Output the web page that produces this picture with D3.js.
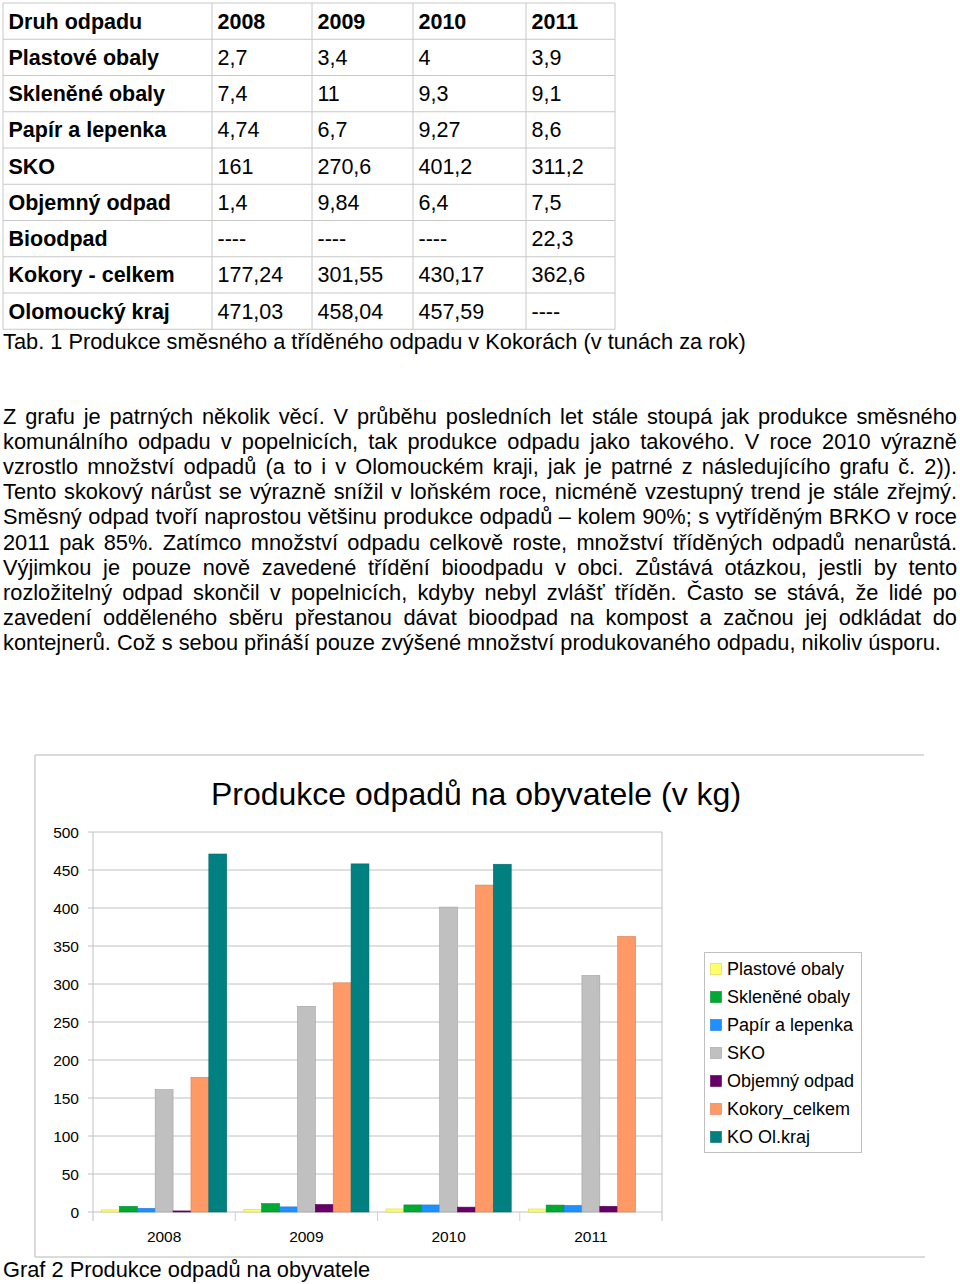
<!DOCTYPE html>
<html><head><meta charset="utf-8">
<script src="https://cdn.jsdelivr.net/npm/d3@7"></script>
<style>
html,body{margin:0;padding:0;background:#fff;}
svg text{font-family:"Liberation Sans",Arial,sans-serif;fill:#000;}
</style></head>
<body>
<svg id="page" width="960" height="1284"></svg>
<script>
// ---------- DATA ----------
const years = ["2008", "2009", "2010", "2011"];
const plastoveObaly = [2.7, 3.4, 4, 3.9];
const skleneneObaly = [7.4, 11, 9.3, 9.1];
const papirLepenka = [4.74, 6.7, 9.27, 8.6];
const sko = [161, 270.6, 401.2, 311.2];
const objemnyOdpad = [1.4, 9.84, 6.4, 7.5];
const bioodpad = [null, null, null, 22.3];
const kokoryCelkem = [177.24, 301.55, 430.17, 362.6];
const olomouckyKraj = [471.03, 458.04, 457.59, null];

const tableHeader = ["Druh odpadu", "2008", "2009", "2010", "2011"];
const tableRowNames = ["Plastové obaly", "Skleněné obaly", "Papír a lepenka", "SKO", "Objemný odpad", "Bioodpad", "Kokory - celkem", "Olomoucký kraj"];
const tableRowValues = [plastoveObaly, skleneneObaly, papirLepenka, sko, objemnyOdpad, bioodpad, kokoryCelkem, olomouckyKraj];

const seriesNames = ["Plastové obaly", "Skleněné obaly", "Papír a lepenka", "SKO", "Objemný odpad", "Kokory_celkem", "KO Ol.kraj"];
const seriesValues = [plastoveObaly, skleneneObaly, papirLepenka, sko, objemnyOdpad, kokoryCelkem, olomouckyKraj];
const seriesColors = ["#ffff66", "#00a933", "#1e90ff", "#c0c0c0", "#660066", "#ff9966", "#008080"];
const yTicks = [0, 50, 100, 150, 200, 250, 300, 350, 400, 450, 500];

const tableCaption = "Tab. 1 Produkce směsného a tříděného odpadu v Kokorách (v tunách za rok)";
const paragraphLines = [
  "Z grafu je patrných několik věcí. V průběhu posledních let stále stoupá jak produkce směsného",
  "komunálního odpadu v popelnicích, tak produkce odpadu jako takového. V roce 2010 výrazně",
  "vzrostlo množství odpadů (a to i v Olomouckém kraji, jak je patrné z následujícího grafu č. 2)).",
  "Tento skokový nárůst se výrazně snížil v loňském roce, nicméně vzestupný trend je stále zřejmý.",
  "Směsný odpad tvoří naprostou většinu produkce odpadů – kolem 90%; s vytříděným BRKO v roce",
  "2011 pak 85%. Zatímco množství odpadu celkově roste, množství tříděných odpadů nenarůstá.",
  "Výjimkou je pouze nově zavedené třídění bioodpadu v obci. Zůstává otázkou, jestli by tento",
  "rozložitelný odpad skončil v popelnicích, kdyby nebyl zvlášť tříděn. Často se stává, že lidé po",
  "zavedení odděleného sběru přestanou dávat bioodpad na kompost a začnou jej odkládat do",
  "kontejnerů. Což s sebou přináší pouze zvýšené množství produkovaného odpadu, nikoliv úsporu."
];
const chartTitle = "Produkce odpadů na obyvatele (v kg)";
const chartCaption = "Graf 2 Produkce odpadů na obyvatele";

// ---------- PAGE ----------
const svg = d3.select("#page");
const fmt = v => v == null ? "----" : String(v).replace(".", ",");

// Table
const colX = [3, 212, 312, 413, 526, 615];
const rowTop = 3, rowH = 36.25, nRows = tableRowNames.length + 1;
const tbl = svg.append("g");
const gridCol = "#c8c8c8";
for (let i = 0; i <= nRows; i++) {
  tbl.append("line").attr("x1", colX[0]).attr("x2", colX[colX.length - 1])
    .attr("y1", rowTop + i * rowH).attr("y2", rowTop + i * rowH)
    .attr("stroke", gridCol).attr("stroke-width", 1);
}
colX.forEach(x => tbl.append("line").attr("x1", x).attr("x2", x)
  .attr("y1", rowTop).attr("y2", rowTop + nRows * rowH).attr("stroke", gridCol));
const rows = [tableHeader].concat(tableRowNames.map((n, i) => [n].concat(tableRowValues[i].map(fmt))));
rows.forEach((r, ri) => {
  r.forEach((c, ci) => {
    tbl.append("text").attr("x", colX[ci] + 5.5).attr("y", rowTop + ri * rowH + 25.5)
      .attr("font-size", 21.5)
      .attr("font-weight", (ri === 0 || ci === 0) ? "bold" : "normal")
      .text(c);
  });
});
const bodyFont = 21.8;
svg.append("text").attr("x", 3).attr("y", 349).attr("font-size", bodyFont).text(tableCaption);

// Paragraph, justified
const pLeft = 3, pRight = 957, pTop = 424, pLH = 25.1;
paragraphLines.forEach((line, i) => {
  const t = svg.append("text").attr("x", pLeft).attr("y", pTop + i * pLH)
    .attr("font-size", bodyFont).text(line);
  if (i < paragraphLines.length - 1) {
    const w = t.node().getComputedTextLength();
    const spaces = (line.match(/ /g) || []).length;
    t.style("word-spacing", ((pRight - pLeft - w) / spaces) + "px");
  }
});

// ---------- CHART ----------
const frame = svg.append("g").attr("stroke", "#cfcfcf").attr("stroke-width", 1.5);
frame.append("line").attr("x1", 35).attr("x2", 35).attr("y1", 755).attr("y2", 1257);
frame.append("line").attr("x1", 35).attr("x2", 924).attr("y1", 755).attr("y2", 755);
frame.append("line").attr("x1", 35).attr("x2", 925).attr("y1", 1257).attr("y2", 1257);

svg.append("text").attr("x", 476).attr("y", 805).attr("text-anchor", "middle")
  .attr("font-size", 32).text(chartTitle);

const plot = {left: 93, right: 662, top: 832, bottom: 1212};
const x = d3.scaleBand().domain(years).range([plot.left, plot.right]);
const xs = d3.scaleBand().domain(seriesNames)
  .range([x.bandwidth() * 0.06, x.bandwidth() * 0.94]);
const y = d3.scaleLinear().domain([0, 500]).range([plot.bottom, plot.top]);

svg.append("g").selectAll("line").data(yTicks).join("line")
  .attr("x1", plot.left - 5).attr("x2", plot.right)
  .attr("y1", d => y(d)).attr("y2", d => y(d))
  .attr("stroke", "#c0c0c0").attr("stroke-width", 1);
svg.append("line").attr("x1", plot.left).attr("x2", plot.left).attr("y1", plot.top).attr("y2", plot.bottom + 9)
  .attr("stroke", "#c0c0c0");
svg.append("line").attr("x1", plot.right).attr("x2", plot.right).attr("y1", plot.top).attr("y2", plot.bottom + 9)
  .attr("stroke", "#c0c0c0");
svg.append("g").selectAll("line").data(years.slice(1)).join("line")
  .attr("x1", d => x(d)).attr("x2", d => x(d))
  .attr("y1", plot.bottom).attr("y2", plot.bottom + 9)
  .attr("stroke", "#d0d0d0");

svg.append("g").selectAll("text").data(yTicks).join("text")
  .attr("x", 79).attr("y", d => y(d) + 5.5).attr("text-anchor", "end")
  .attr("font-size", 15.5).text(d => d);
svg.append("g").selectAll("text").data(years).join("text")
  .attr("x", d => x(d) + x.bandwidth() / 2).attr("y", 1241.5).attr("text-anchor", "middle")
  .attr("font-size", 15.5).text(d => d);

const barData = [];
seriesNames.forEach((s, si) => years.forEach((yr, yi) => {
  const v = seriesValues[si][yi];
  if (v != null) barData.push({s, si, yr, v});
}));
svg.append("g").selectAll("rect").data(barData).join("rect")
  .attr("x", d => x(d.yr) + xs(d.s))
  .attr("width", xs.bandwidth())
  .attr("y", d => y(d.v))
  .attr("height", d => y(0) - y(d.v))
  .attr("fill", d => seriesColors[d.si])
  .attr("stroke", d => d3.color(seriesColors[d.si]).darker(0.5))
  .attr("stroke-width", 0.6);

const lg = svg.append("g");
lg.append("rect").attr("x", 704.5).attr("y", 952.5).attr("width", 157).attr("height", 200)
  .attr("fill", "#fff").attr("stroke", "#c0c0c0");
seriesNames.forEach((s, i) => {
  const cy = 969 + i * 28;
  lg.append("rect").attr("x", 710.5).attr("y", cy - 5.5).attr("width", 11).attr("height", 11)
    .attr("fill", seriesColors[i]).attr("stroke", d3.color(seriesColors[i]).darker(0.5)).attr("stroke-width", 0.6);
  lg.append("text").attr("x", 727).attr("y", cy + 6).attr("font-size", 18).text(s);
});

svg.append("text").attr("x", 3).attr("y", 1277).attr("font-size", bodyFont).text(chartCaption);
</script>
</body></html>
